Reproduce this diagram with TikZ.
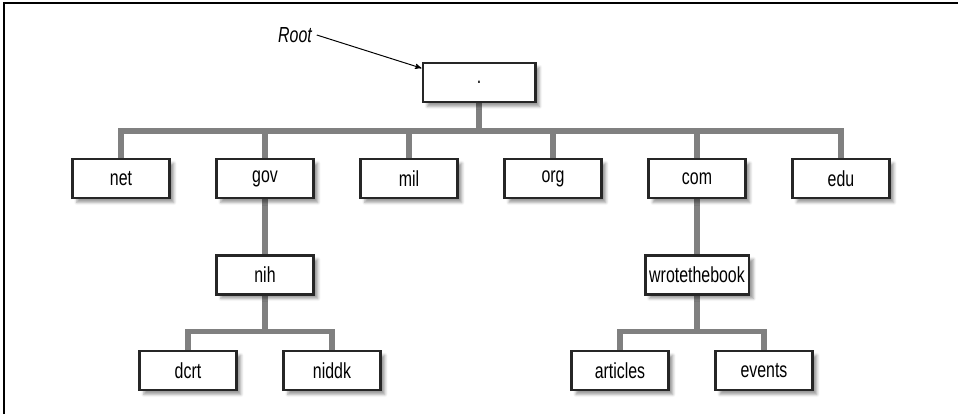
\documentclass[tikz,border=0pt]{standalone}
\usepackage{fontspec}
\setmainfont{Liberation Sans}[FakeStretch=0.73]
\usepackage{tikz}
\usetikzlibrary{arrows,shadows.blur,backgrounds}

\begin{document}
\begin{tikzpicture}[x=0.025cm,y=-0.025cm,node distance=2.4cm,>=stealth']
  \tikzstyle{dnsbox}=[rectangle,draw=black!85,line width=2.1pt,fill=white,
  		      minimum width=2.42cm,minimum height=0.975cm,inner sep=3pt,
  		      font=\fontsize{15.5}{17}\selectfont,
  		      blur shadow={shadow xshift=0.11cm,shadow yshift=-0.11cm,
  		        shadow blur radius=0.07cm,shadow opacity=40}]
  \tikzstyle{branch}=[draw=black!50,line width=3.6pt]
  \useasboundingbox (0,0) rectangle (958,414);
  \draw[line width=1.5pt] (4,414) -- (4,3) -- (958,3);
  % root and top level domains
  \node [dnsbox,minimum width=2.8cm] (root) at (479,82.5) {.};
  \node [font=\fontsize{15.5}{17}\selectfont\itshape] (rootlabel) at (295,35) {Root};
  \draw[->,line width=0.7pt] (rootlabel.east) -- (root.166);
  \node [dnsbox] (net) at (121,178.5) {net};
  \node [dnsbox] (gov) at (265,178.5) {gov};
  \node [dnsbox] (mil) at (409,178.5) {mil};
  \node [dnsbox] (org) at (553,178.5) {org};
  \node [dnsbox] (com) at (697,178.5) {com};
  \node [dnsbox] (edu) at (841,178.5) {edu};
  % second and third level
  \node [dnsbox] (nih) [below of=gov] {nih};
  \node [dnsbox] (book) [below of=com] {wrotethebook};
  \node [dnsbox] (dcrt) at (188,370.5) {dcrt};
  \node [dnsbox] (niddk) at (332,370.5) {niddk};
  \node [dnsbox] (articles) at (620,370.5) {articles};
  \node [dnsbox] (events) at (764,370.5) {events};
  \coordinate (bar1) at (0,131);
  \coordinate (bar2) at (0,331.5);
  \begin{scope}[on background layer]
    \foreach \tld in {net,gov,mil,org,com,edu}
      \draw[branch] (root.south) -- (root.south |- bar1) -| (\tld.north);
    \draw[branch] (gov.south) -- (nih.north);
    \draw[branch] (com.south) -- (book.north);
    \foreach \sub in {dcrt,niddk}
      \draw[branch] (nih.south) -- (nih.south |- bar2) -| (\sub.north);
    \foreach \sub in {articles,events}
      \draw[branch] (book.south) -- (book.south |- bar2) -| (\sub.north);
  \end{scope}
\end{tikzpicture}
\end{document}
